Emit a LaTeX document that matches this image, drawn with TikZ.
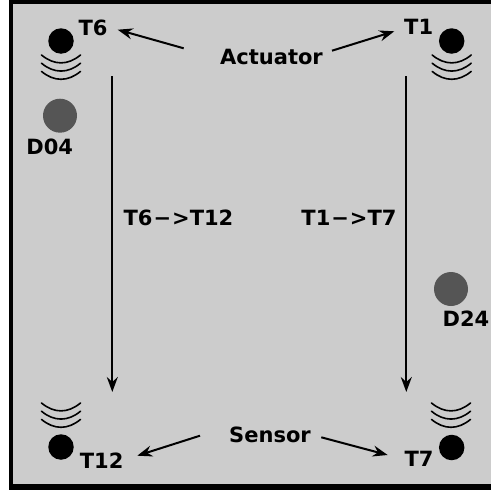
\documentclass[tikz,border=0pt]{standalone}
\usepackage{fontspec}
\setmainfont{DejaVu Sans}
\usetikzlibrary{arrows.meta}
\definecolor{panel}{HTML}{CCCCCC}
\definecolor{dimdot}{HTML}{555555}
\tikzset{
  x=1pt,y=-1pt,
  lbl/.style={inner sep=0pt,font=\bfseries\fontsize{21}{25}\selectfont,text=black},
  txdot/.style={circle,fill=black,draw=none,minimum size=25.5pt,inner sep=0pt},
  ddot/.style={circle,fill=dimdot,draw=none,minimum size=34pt,inner sep=0pt},
  wave/.style={line width=1.6pt,line cap=round,black},
  arr/.style={line width=2pt,black,-{Stealth[length=15pt,width=11pt,inset=5pt]}}
}
\begin{document}
\begin{tikzpicture}
\useasboundingbox (0,0) rectangle (491,490);
\fill[white] (0,0) rectangle (491,490);
\begin{scope}
\clip (0,0) rectangle (491,490);
\fill[black] (9,-5) rectangle (500,490);
\fill[panel] (13,4) rectangle (500,484);
\end{scope}
% emitters and receivers
\node[txdot] (t6) at (61,41) {};
\node[txdot] (t1) at (451.7,41) {};
\node[txdot] (t12) at (61,447) {};
\node[txdot] (t7) at (451.7,447.5) {};
\node[ddot] (d04) at (60,115.7) {};
\node[ddot] (d24) at (451,289) {};
% waves
\foreach \cx/\cy in {61/55,451.7/55,61/403,451/403}{
  \foreach \dy in {0,8.2,16.4}{
    \draw[wave] (\cx-19.5,\cy+\dy) .. controls (\cx-7,\cy+\dy+10.5) and (\cx+7,\cy+\dy+10.5) .. (\cx+19.5,\cy+\dy);
  }
}
% labels
\node[lbl] (lt6) at (93,28.3) {T6};
\node[lbl] (lt1) at (418.7,26.7) {T1};
\node[lbl] (ld04) at (49.7,147.3) {D04};
\node[lbl] (ld24) at (466,319) {D24};
\node[lbl] (lt12) at (101.7,461) {T12};
\node[lbl] (lt7) at (419,459) {T7};
\node[lbl] (act) at (271.5,57) {Actuator};
\node[lbl] (sen) at (270,435) {Sensor};
\node[lbl] (p1) at (178.5,218) {T6\kern1pt−\kern1pt>T12};
\node[lbl] (p2) at (349,218) {T1\kern1pt−\kern1pt>T7};
% connector ends
\coordinate (a6s) at (183.7,48.3);
\coordinate (a6e) at (117.7,29.7);
\coordinate (a1s) at (332,50.7);
\coordinate (a1e) at (394.3,31.3);
\coordinate (s12s) at (200,435.7);
\coordinate (s12e) at (137.3,455.7);
\coordinate (s7s) at (321.3,437.3);
\coordinate (s7e) at (387.7,455);
\coordinate (v1s) at (112.3,76);
\coordinate (v1e) at (112.3,392);
\coordinate (v2s) at (406.3,76);
\coordinate (v2e) at (406.3,392);
\draw[arr] (a6s) -- (a6e);
\draw[arr] (a1s) -- (a1e);
\draw[arr] (s12s) -- (s12e);
\draw[arr] (s7s) -- (s7e);
\draw[arr] (v1s) -- (v1e);
\draw[arr] (v2s) -- (v2e);
\end{tikzpicture}
\end{document}
